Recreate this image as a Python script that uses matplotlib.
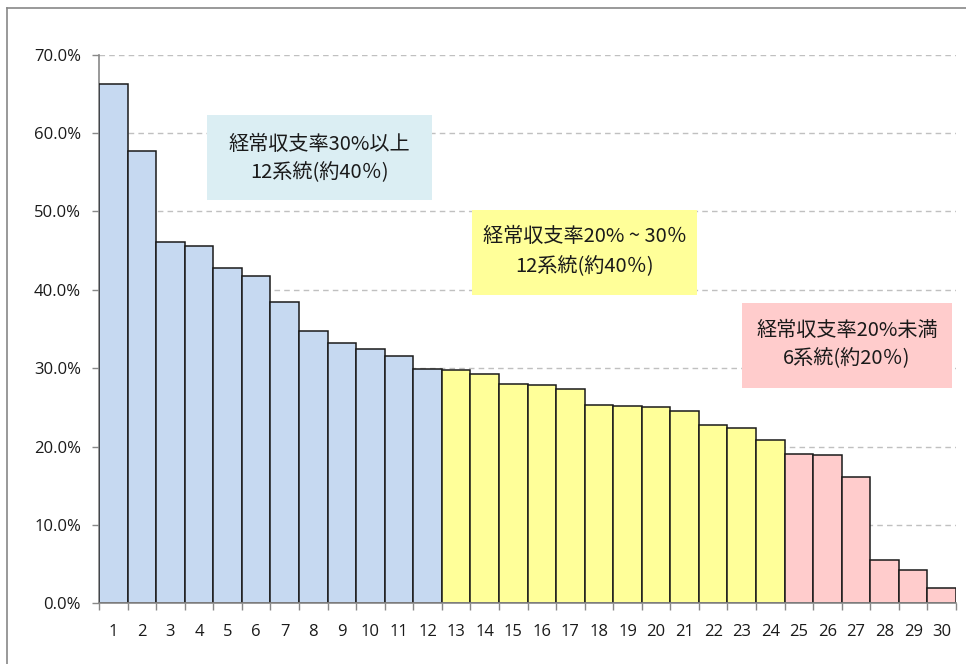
import matplotlib
matplotlib.use("Agg")
import matplotlib.pyplot as plt
from matplotlib.patches import Rectangle
import numpy as np

# ---- data ----
systems = list(range(1, 31))
ratios = [66.3, 57.7, 46.1, 45.6, 42.8, 41.7, 38.4, 34.7, 33.2, 32.5,
          31.5, 29.9, 29.8, 29.3, 28.0, 27.8, 27.3, 25.3, 25.2, 25.0,
          24.6, 22.8, 22.4, 20.8, 19.0, 18.9, 16.1, 5.5, 4.3, 2.0]
groups = [0] * 12 + [1] * 12 + [2] * 6
group_colors = ["#c6d9f1", "#ffff99", "#ffcccc"]
y_ticks = [0, 10, 20, 30, 40, 50, 60, 70]
box_lines = [
    ("経常収支率30%以上", "12系統(約40％)"),
    ("経常収支率20% ~ 30％", "12系統(約40％)"),
    ("経常収支率20%未満", "6系統(約20％)"),
]

W, H = 966, 664
fig = plt.figure(figsize=(W / 100, H / 100), dpi=100)
fig.patch.set_facecolor("white")

# outer chart frame (left and top visible)
fig.add_artist(plt.Line2D([7 / W, 7 / W], [0, 1 - 8 / H], transform=fig.transFigure,
                          color="#888888", lw=1.2))
fig.add_artist(plt.Line2D([7 / W, 1], [1 - 8 / H, 1 - 8 / H], transform=fig.transFigure,
                          color="#888888", lw=1.2))

left, right = 99 / W, 956 / W
bottom, top = (H - 603.3) / H, (H - 54.7) / H
ax = fig.add_axes([left, bottom, right - left, top - bottom])

colors = [group_colors[g] for g in groups]
ax.bar(systems, ratios, width=1.0, color=colors, edgecolor="#1a1a1a", linewidth=1.1, zorder=3)

ax.set_xlim(0.5, 30.5)
ax.set_ylim(0, 70)
ax.set_yticks(y_ticks)
ax.set_yticklabels([f"{v:.1f}%" for v in y_ticks])
ax.set_xticks(systems)
ax.set_xticklabels([str(s) for s in systems])
ax.set_xticks(np.arange(0.5, 31, 1.0), minor=True)
ax.tick_params(axis="x", which="major", length=0, pad=15)
ax.tick_params(axis="x", which="minor", length=5, color="#888888", width=1)
ax.tick_params(axis="y", length=5, color="#888888", width=1, pad=8)
for lab in ax.get_xticklabels() + ax.get_yticklabels():
    lab.set_fontfamily(["Open Sans", "DejaVu Sans"])
    lab.set_fontsize(12)
    lab.set_color("#1a1a1a")

ax.yaxis.grid(True, linestyle=(0, (4, 3)), color="#c0c0c0", linewidth=1, zorder=0)
ax.set_axisbelow(True)
for s in ["top", "right"]:
    ax.spines[s].set_visible(False)
for s in ["left", "bottom"]:
    ax.spines[s].set_color("#888888")
    ax.spines[s].set_linewidth(1.2)
ax.spines["bottom"].set_zorder(4)

# annotation boxes (pixel layout)
boxes = [
    (207, 115, 432, 200, "#dbeef3", 144, 173),
    (472, 210, 697, 295, "#ffff99", 237, 267),
    (742, 303, 952, 388, "#ffcccc", 331, 359),
]
for (x0, y0, x1, y1, fc, ly1, ly2), (t1, t2) in zip(boxes, box_lines):
    fig.add_artist(Rectangle((x0 / W, 1 - y1 / H), (x1 - x0) / W, (y1 - y0) / H,
                             transform=fig.transFigure, facecolor=fc, edgecolor="none", zorder=5))
    cx = (x0 + x1) / 2 / W
    for t, ly in ((t1, ly1), (t2, ly2)):
        fig.text(cx, 1 - ly / H, t, ha="center", va="center", fontsize=14.5,
                 family=["Noto Sans CJK JP", "DejaVu Sans"], color="#1a1a1a", zorder=6)

fig.savefig("out.png", dpi=100, facecolor="white")
